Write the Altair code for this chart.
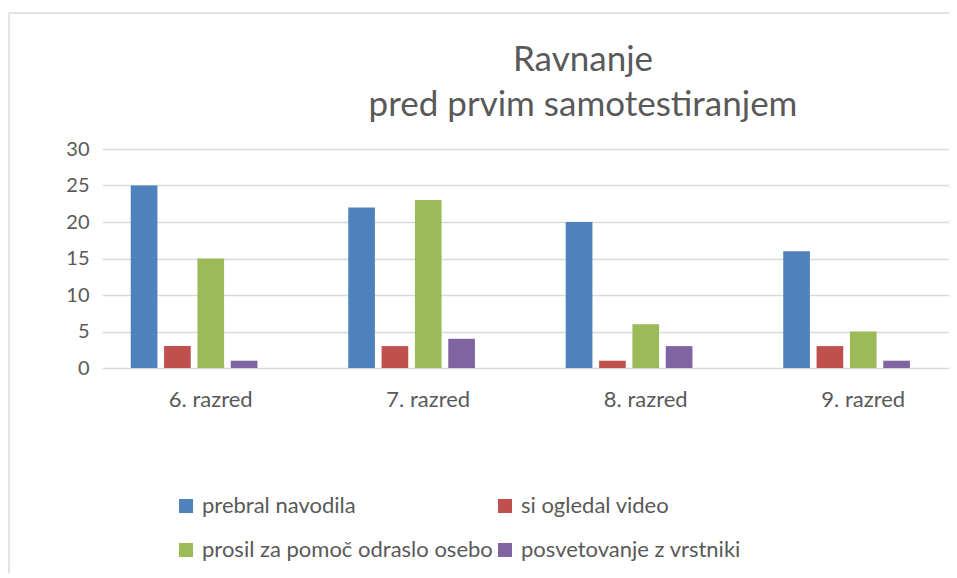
import altair as alt
import pandas as pd

categories = ["6. razred", "7. razred", "8. razred", "9. razred"]
series = ["prebral navodila", "si ogledal video", "prosil za pomoč odraslo osebo", "posvetovanje z vrstniki"]
prebral_navodila = [25, 22, 20, 16]
si_ogledal_video = [3, 3, 1, 3]
prosil_odraslo = [15, 23, 6, 5]
posvetovanje = [1, 4, 3, 1]
colors = ["#4F81BD", "#C0504D", "#9BBB59", "#8064A2"]
y_ticks = [0, 5, 10, 15, 20, 25, 30]
title_lines = ["Ravnanje", "pred prvim samotestiranjem"]

values = [prebral_navodila, si_ogledal_video, prosil_odraslo, posvetovanje]
rows = []
for s, vals in zip(series, values):
    for c, v in zip(categories, vals):
        rows.append({"razred": c, "serija": s, "vrednost": v})
df = pd.DataFrame(rows)
one = pd.DataFrame({"k": [0]})

FONT = "Lato"
TXT = "#595959"
W, H = 847, 219

bars = alt.Chart(df).mark_bar().encode(
    x=alt.X("razred:N", sort=categories, title=None,
            scale=alt.Scale(domain=categories, range=[0, 870],
                            paddingInner=0.2336, paddingOuter=0.1168),
            axis=alt.Axis(domain=False, ticks=False, labelAngle=0,
                          labelFontSize=22, labelColor=TXT, labelFont=FONT,
                          labelPadding=21)),
    xOffset=alt.XOffset("serija:N",
                        scale=alt.Scale(domain=series + ["_"],
                                        paddingInner=0.2, paddingOuter=0.1)),
    y=alt.Y("vrednost:Q", title=None,
            scale=alt.Scale(domain=[0, 30], nice=False),
            axis=alt.Axis(values=y_ticks, domain=False, ticks=False,
                          labelFontSize=20, labelColor=TXT, labelFont=FONT,
                          labelPadding=13, gridColor="#d9d9d9", gridWidth=1.5)),
    color=alt.Color("serija:N",
                    scale=alt.Scale(domain=series, range=colors),
                    legend=alt.Legend(title=None, orient="none", legendX=73, legendY=346,
                                      direction="horizontal",
                                      columns=2, columnPadding=1, rowPadding=22,
                                      symbolType="square", symbolSize=196, symbolStrokeWidth=0,
                                      labelFontSize=22, labelColor=TXT, labelFont=FONT,
                                      labelOffset=5, labelLimit=500)),
)

title = alt.Chart(one).mark_text(
    font=FONT, fontSize=35, color=TXT, align="center", baseline="alphabetic",
    lineHeight=45,
).encode(x=alt.value(481), y=alt.value(-78), text=alt.value(title_lines))

border_top = alt.Chart(one).mark_rule(color="#d9d9d9", strokeWidth=1.5).encode(
    x=alt.value(-93), x2=alt.value(W + 20), y=alt.value(-136))
border_left = alt.Chart(one).mark_rule(color="#d9d9d9", strokeWidth=1.5).encode(
    x=alt.value(-93), y=alt.value(-136), y2=alt.value(H + 210))

chart = alt.layer(bars, title, border_top, border_left).properties(
    width=W, height=H,
    autosize=alt.AutoSizeParams(type="none"),
    padding={"left": 94, "top": 141, "right": 0, "bottom": 205},
).configure_view(stroke=None)

chart.save("out.html", embed_options={"renderer": "svg", "actions": False})
